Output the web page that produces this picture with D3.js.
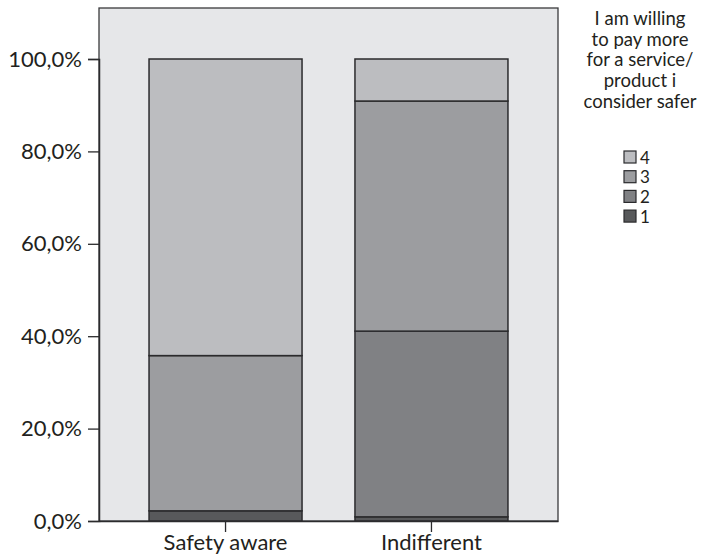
<!DOCTYPE html>
<html>
<head>
<meta charset="utf-8">
<script src="https://cdn.jsdelivr.net/npm/d3@7"></script>
<style>
  body { margin: 0; background: #fff; }
  text { font-family: Lato, "Open Sans", sans-serif; fill: #231f20; }
</style>
</head>
<body>
<div id="chart"></div>
<script>
const groups = ["Safety aware", "Indifferent"];
const levels = ["1", "2", "3", "4"];
// percent of each group answering 1..4
const level1 = [2.2, 0.9];
const level2 = [0.0, 40.2];
const level3 = [33.6, 49.8];
const level4 = [64.2, 9.1];
const yTicks = [0, 20, 40, 60, 80, 100];
const legendTitle = ["I am willing", "to pay more", "for a service/", "product i", "consider safer"];
const levelColors = ["#58595b", "#808184", "#9c9da0", "#bcbdc0"];

const width = 702, height = 557;
const plot = { left: 99, right: 558, top: 8, bottom: 521 };

const svg = d3.select("#chart").append("svg")
  .attr("width", width)
  .attr("height", height);

const x = d3.scaleBand()
  .domain(groups)
  .range([plot.left, plot.right])
  .paddingInner(0.257)
  .paddingOuter(0.243);

const y = d3.scaleLinear()
  .domain([0, 100])
  .range([plot.bottom, 59]);

const color = d3.scaleOrdinal().domain(levels).range(levelColors);

// plot background
svg.append("rect")
  .attr("x", plot.left)
  .attr("y", plot.top)
  .attr("width", plot.right - plot.left)
  .attr("height", plot.bottom - plot.top)
  .attr("fill", "#e6e7e9")
  .attr("stroke", "#3a3a3c")
  .attr("stroke-width", 1.3);

const rows = groups.map((g, i) => ({
  group: g, "1": level1[i], "2": level2[i], "3": level3[i], "4": level4[i]
}));
const stacked = d3.stack().keys(levels)(rows);

svg.append("g").selectAll("g")
  .data(stacked)
  .enter().append("g")
  .attr("fill", d => color(d.key))
  .selectAll("rect")
  .data(d => d.filter(s => s[1] - s[0] > 0))
  .enter().append("rect")
  .attr("x", d => x(d.data.group))
  .attr("y", d => y(d[1]))
  .attr("width", x.bandwidth())
  .attr("height", d => y(d[0]) - y(d[1]))
  .attr("stroke", "#2b2b2d")
  .attr("stroke-width", 1.5);

// y axis
const yAxis = svg.append("g")
  .attr("transform", `translate(${plot.left},0)`)
  .call(d3.axisLeft(y).tickValues(yTicks).tickSize(11).tickPadding(6)
    .tickFormat(d => d3.format(".1f")(d).replace(".", ",") + "%"));
yAxis.select(".domain").attr("stroke", "#2b2b2d").attr("stroke-width", 1.5);
yAxis.selectAll(".tick line").attr("stroke", "#2b2b2d").attr("stroke-width", 1.3);
yAxis.selectAll("text").style("font-size", "22px").attr("fill", "#231f20");

// x axis
const xAxis = svg.append("g")
  .attr("transform", `translate(0,${plot.bottom})`)
  .call(d3.axisBottom(x).tickSize(11).tickPadding(2).tickSizeOuter(0));
xAxis.select(".domain").attr("stroke", "#2b2b2d").attr("stroke-width", 1.5);
xAxis.selectAll(".tick line").attr("stroke", "#2b2b2d").attr("stroke-width", 1.3);
xAxis.selectAll("text").style("font-size", "22px").attr("fill", "#231f20");

// legend
const legend = svg.append("g");
legend.selectAll("text.title")
  .data(legendTitle)
  .enter().append("text")
  .attr("class", "title")
  .attr("x", 640)
  .attr("y", (d, i) => 25 + i * 20.7)
  .attr("text-anchor", "middle")
  .style("font-size", "18.5px")
  .text(d => d);

const legendItems = levels.slice().reverse();
const item = legend.selectAll("g.item")
  .data(legendItems)
  .enter().append("g")
  .attr("class", "item")
  .attr("transform", (d, i) => `translate(624,${151 + i * 19.7})`);
item.append("rect")
  .attr("width", 12)
  .attr("height", 12)
  .attr("fill", d => color(d))
  .attr("stroke", "#2b2b2d")
  .attr("stroke-width", 1.2);
item.append("text")
  .attr("x", 16)
  .attr("y", 12.5)
  .style("font-size", "17px")
  .text(d => d);
</script>
</body>
</html>
